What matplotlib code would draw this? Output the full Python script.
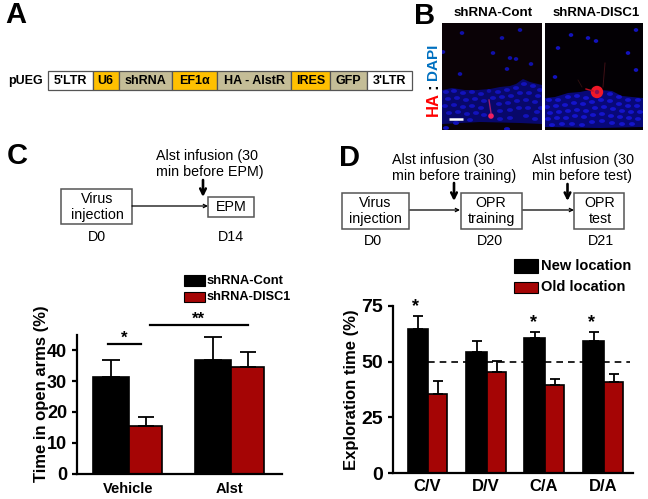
import matplotlib
matplotlib.use("Agg")
import matplotlib.pyplot as plt
from matplotlib.patches import Rectangle, Polygon, Circle, Ellipse

W, H = 648, 499
plt.rcParams['font.family'] = ['Liberation Sans', 'DejaVu Sans']

# Panel A construct
seg_labels = ["5'LTR", "U6", "shRNA", "EF1\u03b1", "HA - AlstR", "IRES", "GFP", "3'LTR"]
seg_edges = [48, 93, 118.5, 172, 217, 291, 330, 367, 412]
seg_colors = ["white", "#FFC000", "#C4BD97", "#FFC000", "#C4BD97", "#FFC000", "#C4BD97", "white"]

# Panel C data
c_groups = ["Vehicle", "Alst"]
c_cont = [31.5, 37]
c_cont_err = [5.5, 7.5]
c_disc = [15.3, 34.7]
c_disc_err = [3.2, 4.8]
c_ticks = [0, 10, 20, 30, 40]

# Panel D data
d_groups = ["C/V", "D/V", "C/A", "D/A"]
d_new = [64.5, 54.5, 60.5, 59.5]
d_new_err = [5.8, 4.8, 2.6, 3.8]
d_old = [35.5, 45.5, 39.5, 40.8]
d_old_err = [5.9, 5.0, 2.8, 3.8]
d_ticks = [0, 25, 50, 75]

BLACK = "#000000"
RED = "#A50505"
SCH = 10.3

fig = plt.figure(figsize=(W / 100, H / 100), dpi=100)
ov = fig.add_axes([0, 0, 1, 1], zorder=5)
ov.set_xlim(0, W)
ov.set_ylim(H, 0)
ov.axis("off")
ov.patch.set_alpha(0)


def t(x, y, s, size=9.5, weight="bold", color="black", ha="center", va="center", **kw):
    ov.text(x, y, s, fontsize=size, fontweight=weight, color=color, ha=ha, va=va, **kw)


def box(x0, y0, x1, y1):
    ov.add_patch(Rectangle((x0, y0), x1 - x0, y1 - y0, fc="white", ec="#555555", lw=1.1))


def thin_arrow(x0, x1, y):
    ov.annotate("", xy=(x1, y), xytext=(x0, y),
                arrowprops=dict(arrowstyle="->", lw=0.9, color="black", mutation_scale=6,
                                shrinkA=0, shrinkB=0))


def down_arrow(x, y0, y1):
    ov.annotate("", xy=(x, y1), xytext=(x, y0),
                arrowprops=dict(arrowstyle="->", lw=1.9, color="black", mutation_scale=10,
                                shrinkA=0, shrinkB=0))


# Panel letters
t(5, 15, "A", size=21, ha="left")
t(414, 16, "B", size=21, ha="left")
t(7, 156, "C", size=21, ha="left")
t(339, 158, "D", size=21, ha="left")

# Panel A
t(8, 81, "pUEG", size=9, ha="left")
for i, lab in enumerate(seg_labels):
    ov.add_patch(Rectangle((seg_edges[i], 71), seg_edges[i + 1] - seg_edges[i], 19,
                           fc=seg_colors[i], ec="#555555", lw=0.9))
    t((seg_edges[i] + seg_edges[i + 1]) / 2, 81, lab, size=9)

# Panel B: micrograph drawn with hand-placed nuclei
t(493, 13, "shRNA-Cont", size=9.6)
t(596, 13, "shRNA-DISC1", size=9.5)
t(433, 104, "HA", size=12, color="#FF0000", rotation=90)
t(433, 86, ":", size=12, color="black", rotation=90)
t(433, 62, "DAPI", size=11, color="#0070C0", rotation=90)

frame_left = Rectangle((442, 23), 100, 107, fc="#0A0206", ec="none")
frame_right = Rectangle((545, 23), 98, 107, fc="#030004", ec="none")
ov.add_patch(frame_left)
ov.add_patch(frame_right)

band_left = [(442, 124), (442, 90), (452, 88), (465, 90), (478, 90), (490, 89), (500, 87),
             (510, 86), (516, 84), (523, 79), (530, 82), (542, 85), (542, 124), (520, 123), (480, 122)]
band_right = [(545, 127), (545, 98), (555, 97), (568, 93), (580, 92), (590, 90), (600, 90),
              (612, 91), (622, 96), (632, 97), (643, 98), (643, 127), (600, 128)]
ov.add_patch(Polygon(band_left, fc="#08086A", ec="none"))
ov.add_patch(Polygon(band_right, fc="#080878", ec="none"))

nuclei_left = [
    (446, 92), (454, 91), (463, 93), (472, 92), (481, 94), (498, 92), (507, 90), (516, 88), (524, 84), (533, 86),
    (540, 90), (448, 99), (457, 98), (466, 100), (475, 99), (484, 101), (493, 98), (502, 97), (511, 96), (520, 93),
    (529, 93), (538, 96), (445, 106), (454, 105), (463, 107), (472, 106), (481, 108), (499, 104), (508, 103),
    (517, 101), (526, 100), (535, 102), (541, 108), (449, 113), (458, 112), (467, 114), (476, 113), (484, 115),
    (500, 111), (510, 110), (519, 108), (528, 108), (537, 112), (456, 123), (470, 120), (500, 119), (510, 118),
    (526, 116), (535, 119), (446, 128), (507, 129),
]
nuclei_right = [
    (549, 100), (558, 100), (568, 97), (577, 96), (586, 98), (610, 94), (619, 97), (628, 100), (638, 100),
    (547, 107), (556, 106), (565, 105), (574, 103), (583, 104), (592, 102), (601, 100), (610, 101), (619, 104),
    (628, 106), (637, 106), (550, 113), (559, 112), (568, 111), (577, 110), (586, 111), (595, 108), (604, 107),
    (613, 109), (622, 111), (631, 112), (640, 112), (548, 119), (557, 118), (566, 118), (575, 116), (584, 117),
    (593, 115), (602, 114), (611, 116), (620, 117), (629, 118), (638, 119), (552, 125), (562, 124), (572, 124),
    (582, 125), (592, 122), (602, 121), (612, 123), (622, 124), (632, 124),
]
sparse_left = [(462, 33), (520, 30), (502, 38), (443, 52), (493, 53), (510, 58), (516, 59), (531, 64),
               (507, 69), (460, 74), (489, 91)]
sparse_right = [(571, 35), (588, 38), (596, 41), (636, 30), (558, 48), (628, 53), (636, 70), (555, 77)]


def nuclei(points, frame, w, h, color):
    for x, y in points:
        e = Ellipse((x, y), w, h, fc=color, ec="none")
        ov.add_patch(e)
        e.set_clip_path(frame)


nuclei(nuclei_left, frame_left, 6.0, 3.8, "#1212BC")
nuclei(nuclei_right, frame_right, 6.0, 3.8, "#1414CC")
nuclei(sparse_left, frame_left, 4.5, 3.8, "#1010A8")
nuclei(sparse_right, frame_right, 4.5, 3.8, "#1212BC")

ov.plot([489, 491], [100, 113], color="#A02070", lw=1)
ov.add_patch(Circle((491, 116), 2.8, fc="#F02060", ec="none"))
ov.plot([449, 463], [119, 119], color="white", lw=1.8, solid_capstyle="butt")
ov.plot([605, 603], [63, 87], color="#401016", lw=0.7)
ov.plot([578, 582], [80, 87], color="#301010", lw=0.6)
ov.plot([586, 593], [89, 91], color="#C01020", lw=1)
ov.add_patch(Circle((597, 92), 6.2, fc="#F01828", ec="none"))
ov.add_patch(Circle((597, 92), 2.2, fc="#901050", ec="none"))

# Panel C schematic
t(156, 156, "Alst infusion (30", size=SCH, weight="normal", ha="left")
t(156, 172, "min before EPM)", size=SCH, weight="normal", ha="left")
box(61, 189, 132, 224)
t(97, 199, "Virus", size=SCH, weight="normal")
t(97, 215, "injection", size=SCH, weight="normal")
box(208, 197, 254, 217)
t(231, 207, "EPM", size=SCH, weight="normal")
thin_arrow(132, 208, 206)
down_arrow(203, 180, 197)
t(97, 237, "D0", size=SCH, weight="normal")
t(231, 237, "D14", size=SCH, weight="normal")

# Panel D schematic
t(392, 160, "Alst infusion (30", size=SCH, weight="normal", ha="left")
t(392, 176, "min before training)", size=SCH, weight="normal", ha="left")
t(532, 160, "Alst infusion (30", size=SCH, weight="normal", ha="left")
t(532, 176, "min before test)", size=SCH, weight="normal", ha="left")
box(342, 193, 409, 229)
t(375, 203, "Virus", size=SCH, weight="normal")
t(375, 219, "injection", size=SCH, weight="normal")
box(461, 193, 522, 229)
t(491, 203, "OPR", size=SCH, weight="normal")
t(491, 219, "training", size=SCH, weight="normal")
box(574, 193, 624, 229)
t(600, 203, "OPR", size=SCH, weight="normal")
t(600, 219, "test", size=SCH, weight="normal")
thin_arrow(410, 460, 210)
thin_arrow(523, 574, 210)
down_arrow(454, 183, 201)
down_arrow(567.5, 184, 201)
t(373, 241, "D0", size=SCH, weight="normal")
t(490, 241, "D20", size=SCH, weight="normal")
t(601, 241, "D21", size=SCH, weight="normal")


def make_axes(x0, x1, ytop, ybot):
    ax = fig.add_axes([x0 / W, 1 - ybot / H, (x1 - x0) / W, (ybot - ytop) / H])
    ax.patch.set_alpha(0)
    for s in ("top", "right"):
        ax.spines[s].set_visible(False)
    for s in ("left", "bottom"):
        ax.spines[s].set_linewidth(1.6)
    ax.tick_params(axis="y", width=1.6, length=3.6)
    ax.tick_params(axis="x", length=0)
    return ax


def bars(ax, lefts, rights, vals, errs, color):
    for l, r, v, e in zip(lefts, rights, vals, errs):
        ax.bar((l + r) / 2, v, width=r - l, color=color, edgecolor="black", linewidth=1.2)
        ax.errorbar((l + r) / 2, v, yerr=[[0], [e]], color="black", capsize=(r - l) * 0.175,
                    capthick=1.3, elinewidth=1.3, fmt="none")


# Panel C chart (x axis in pixels)
axc = make_axes(77, 282, 335, 473.5)
axc.set_xlim(77, 282)
axc.set_ylim(0, 45)
bars(axc, [93, 195], [129, 231], c_cont, c_cont_err, BLACK)
bars(axc, [129, 231], [162, 264], c_disc, c_disc_err, RED)
axc.set_yticks(c_ticks)
axc.set_yticklabels(c_ticks, fontsize=13, fontweight="bold")
axc.set_xticks([128, 229])
axc.set_xticklabels(c_groups, fontsize=10.5, fontweight="bold")
axc.tick_params(axis="x", pad=6)
axc.set_ylabel("Time in open arms (%)", fontsize=12, fontweight="bold")
axc.yaxis.set_label_coords(-0.138, 0.574)
ov.plot([108, 141], [344, 344], color="black", lw=1.6)
ov.plot([150, 248], [325, 325], color="black", lw=1.6)
t(124, 338, "*", size=12)
t(198, 319, "**", size=12)
ov.add_patch(Rectangle((184, 275), 21, 11, fc=BLACK, ec="black", lw=0.8))
ov.add_patch(Rectangle((184, 292), 21, 10, fc=RED, ec="black", lw=0.8))
t(207, 281, "shRNA-Cont", size=9.4, ha="left")
t(207, 297, "shRNA-DISC1", size=9.2, ha="left")

# Panel D chart
axd = make_axes(393, 633, 306, 473)
axd.set_xlim(393, 633)
axd.set_ylim(0, 75)
bars(axd, [407.7, 466, 524, 583], [428, 487, 545, 604], d_new, d_new_err, BLACK)
bars(axd, [428, 487, 545, 604], [447, 506, 564, 623], d_old, d_old_err, RED)
axd.axhline(50, xmin=(428 - 393) / 240, xmax=(630 - 393) / 240, color="black", lw=1.2,
            ls=(0, (4, 3)), zorder=0)
axd.set_yticks(d_ticks)
axd.set_yticklabels(d_ticks, fontsize=14, fontweight="bold")
axd.set_xticks([427, 486, 544, 603])
axd.set_xticklabels(d_groups, fontsize=12, fontweight="bold")
axd.tick_params(axis="x", pad=4)
axd.set_ylabel("Exploration time (%)", fontsize=12, fontweight="bold")
axd.yaxis.set_label_coords(-0.142, 0.497)
for x, y in zip([416, 534, 592], [307, 323, 323]):
    t(x, y, "*", size=13)
ov.add_patch(Rectangle((514, 259), 24, 14, fc=BLACK, ec="black", lw=0.8))
ov.add_patch(Rectangle((514, 282), 24, 11, fc=RED, ec="black", lw=0.8))
t(541, 266, "New location", size=10.5, ha="left")
t(541, 287, "Old location", size=10.5, ha="left")

fig.savefig("out.png", dpi=100)
